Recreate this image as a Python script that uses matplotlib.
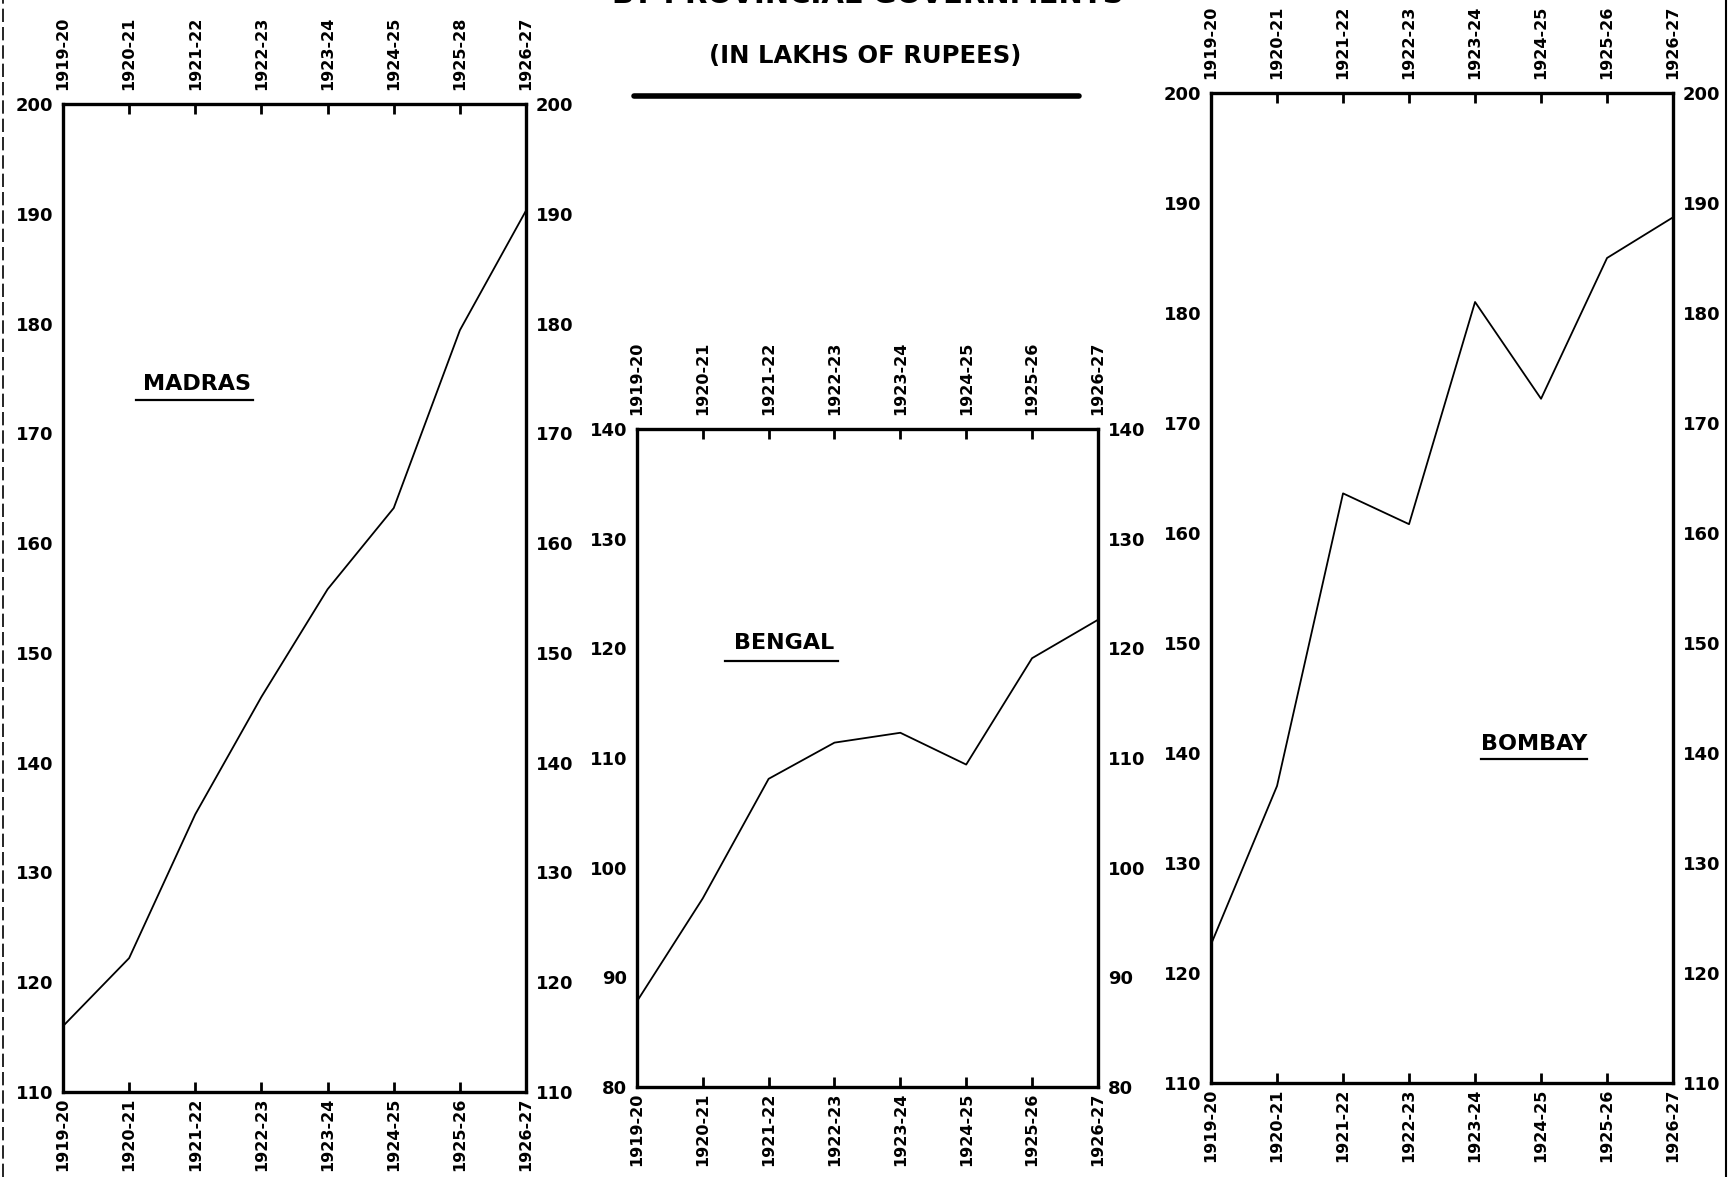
import matplotlib
matplotlib.use("Agg")
import matplotlib.pyplot as plt
from matplotlib.lines import Line2D

# Expenditure by provincial governments (in lakhs of rupees)
years = ["1919-20", "1920-21", "1921-22", "1922-23",
         "1923-24", "1924-25", "1925-26", "1926-27"]
# top labels are printed slightly differently on the Madras panel
madras_top_labels = ["1919-20", "1920-21", "1921-22", "1922-23",
                     "1923-24", "1924-25", "1925-28", "1926-27"]

madras = [116.0, 122.2, 135.3, 146.0, 155.8, 163.2, 179.4, 190.3]
bengal = [87.8, 97.2, 108.1, 111.4, 112.3, 109.4, 119.1, 122.6]
bombay = [122.6, 137.0, 163.6, 160.8, 181.0, 172.2, 185.0, 188.7]

madras_yticks = [110, 120, 130, 140, 150, 160, 170, 180, 190, 200]
bengal_yticks = [80, 90, 100, 110, 120, 130, 140]
bombay_yticks = [110, 120, 130, 140, 150, 160, 170, 180, 190, 200]

plt.rcParams["font.family"] = "DejaVu Sans"
plt.rcParams["font.weight"] = "bold"

fig = plt.figure(figsize=(17.35, 11.77), dpi=100)
fig.patch.set_facecolor("white")


def panel(rect, values, yticks, name, name_pos, uline, top_labels):
    ax = fig.add_axes(rect)
    x = list(range(len(values)))
    ax.plot(x, values, color="black", linewidth=1.3)
    ax.set_xlim(0, len(values) - 1)
    ax.set_ylim(yticks[0], yticks[-1])

    ax.set_xticks(x)
    ax.set_xticklabels(years, rotation=90, fontsize=11.5, fontweight="bold")
    ax.set_yticks(yticks)
    ax.set_yticklabels([str(t) for t in yticks], fontsize=13, fontweight="bold")

    ax.tick_params(axis="x", direction="in", length=7, width=2,
                   top=True, bottom=True, labeltop=False, labelbottom=True, pad=4)
    ax.tick_params(axis="y", length=0, left=True, right=True,
                   labelleft=True, labelright=True, pad=7)

    # top labels (secondary axis so text can differ)
    top = ax.secondary_xaxis("top")
    top.set_xticks(x)
    top.set_xticklabels(top_labels, rotation=90, fontsize=11.5, fontweight="bold")
    top.tick_params(axis="x", length=0, pad=10)
    top.spines["top"].set_visible(False)

    for sp in ax.spines.values():
        sp.set_linewidth(2.4)

    ax.text(name_pos[0], name_pos[1], name, transform=ax.transAxes,
            ha="center", va="center", fontsize=16, fontweight="bold")
    ax.add_line(Line2D([uline[0], uline[1]], [uline[2], uline[2]],
                       transform=ax.transAxes, color="black", linewidth=1.6))
    return ax


panel([0.0363, 0.0722, 0.2669, 0.8394], madras, madras_yticks, "MADRAS",
      (0.29, 0.717), (0.158, 0.411, 0.700), madras_top_labels)
panel([0.3671, 0.0765, 0.2657, 0.5590], bengal, bengal_yticks, "BENGAL",
      (0.32, 0.675), (0.19, 0.437, 0.648), years)
panel([0.6980, 0.0799, 0.2663, 0.8411], bombay, bombay_yticks, "BOMBAY",
      (0.699, 0.342), (0.584, 0.813, 0.327), years)

# heading (top line cut off in the original scan)
fig.text(0.500, 1.004, "BY PROVINCIAL GOVERNMENTS", ha="center", va="center",
         fontsize=21, fontweight="bold")
fig.text(0.4986, 0.9524, "(IN LAKHS OF RUPEES)", ha="center", va="center",
         fontsize=17.5, fontweight="bold")
fig.add_artist(Line2D([0.3654, 0.6219], [0.9184, 0.9184], transform=fig.transFigure,
                      color="black", linewidth=4, solid_capstyle="round"))

# page edges from the scan
fig.add_artist(Line2D([0.002, 0.002], [0.0, 1.0], transform=fig.transFigure,
                      color="black", linewidth=1.2, linestyle=(0, (8, 3))))
fig.add_artist(Line2D([0.9948, 0.9948], [0.0, 1.0], transform=fig.transFigure,
                      color="black", linewidth=1.5))

fig.savefig("out.png", dpi=100)
